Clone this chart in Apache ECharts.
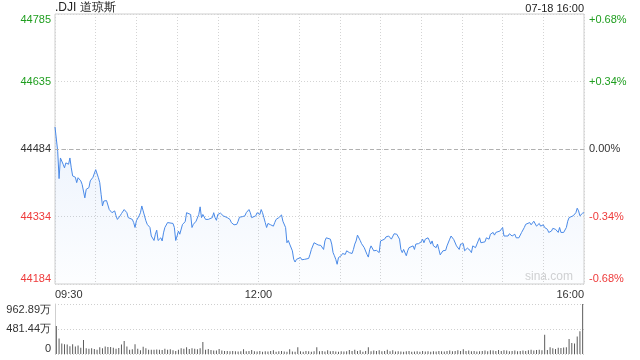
<!DOCTYPE html>
<html><head><meta charset="utf-8">
<script src="https://cdn.jsdelivr.net/npm/echarts@6/dist/echarts.min.js"></script>
<style>html,body{margin:0;padding:0;background:#fff}#c{width:640px;height:360px}</style>
</head><body><div id="c"></div>
<script>
const titleText = '.DJI 道琼斯';
const stampText = '07-18 16:00';
const watermark = 'sina.com';
const prevClose = 44484;
const priceTicks = ['44785','44635','44484','44334','44184'];
const pctTicks = ['+0.68%','+0.34%','0.00%','-0.34%','-0.68%'];
const timeTickMinutes = [0,150,390];
const timeTickLabels = ['09:30','12:00','16:00'];
const volTicks = ['0','481.44万','962.89万'];
const volMax = 962.89;

const lineMinutes = [
0,2,3,4,6,7,8,9,10,11,
12,13,14,15,16,17,19,20,21,22,
23,24,25,26,28,29,30,31,32,33,
34,35,36,38,39,40,41,42,44,45,
46,48,49,50,51,53,54,55,57,58,
59,60,62,63,64,65,67,68,69,70,
71,73,74,75,76,78,79,80,81,83,
84,87,88,89,90,91,92,94,95,96,
97,98,100,101,102,103,104,106,107,108,
109,111,113,114,116,117,118,119,120,122,
123,124,125,127,128,129,130,132,133,134,
135,136,138,139,140,141,143,144,145,146,
148,149,150,151,152,153,154,155,156,157,
159,160,161,162,163,165,166,167,168,170,
171,172,173,175,176,177,178,179,181,182,
184,187,188,189,191,192,194,195,196,198,
199,200,201,203,204,205,206,207,208,209,
210,211,212,214,215,216,217,219,220,221,
222,223,225,226,227,228,230,231,232,233,
235,236,237,238,239,240,241,243,244,245,
246,248,249,250,251,252,254,255,256,257,
259,260,261,262,264,265,266,267,268,270,
271,272,273,275,276,277,278,279,281,282,
283,284,286,287,288,289,291,292,293,294,
296,297,298,299,301,302,303,304,306,307,
308,309,310,312,313,314,315,317,318,319,
320,321,323,324,325,326,328,329,330,331,
332,334,335,336,337,339,340,341,342,344,
345,346,347,348,350,351,352,353,355,356,
357,358,360,361,362,363,364,366,367,368,
369,371,372,373,375,376,377,378,379,380,
382,383,384,385,386,387,388,389,390
];
const linePrices = [
44533,44479,44418,44464,44450,44442,44453,44457,44450,44464,
44442,44424,44420,44421,44409,44420,44413,44405,44401,44375,
44394,44392,44398,44413,44421,44420,44438,44442,44420,44409,
44383,44357,44368,44369,44369,44349,44346,44342,44346,44335,
44327,44335,44340,44342,44349,44342,44331,44331,44327,44320,
44309,44324,44335,44342,44357,44346,44324,44316,44316,44309,
44290,44280,44294,44303,44280,44286,44279,44297,44309,44320,
44320,44318,44309,44280,44290,44301,44294,44316,44320,44322,
44342,44344,44338,44309,44316,44320,44323,44338,44355,44331,
44338,44327,44327,44325,44331,44342,44331,44325,44338,44341,
44338,44335,44337,44331,44335,44327,44320,44315,44312,44316,
44323,44332,44333,44332,44335,44342,44349,44342,44331,44329,
44335,44342,44346,44338,44349,44342,44331,44320,44309,44318,
44315,44318,44312,44320,44327,44331,44332,44337,44323,44309,
44275,44280,44272,44257,44238,44232,44238,44240,44242,44237,
44238,44240,44249,44260,44275,44275,44270,44271,44269,44260,
44279,44286,44288,44283,44272,44253,44246,44238,44227,44242,
44238,44246,44251,44249,44257,44260,44253,44251,44260,44272,
44279,44292,44280,44273,44272,44264,44249,44243,44260,44268,
44257,44253,44258,44257,44253,44279,44277,44283,44288,44288,
44290,44283,44286,44295,44299,44294,44283,44260,44253,44260,
44246,44257,44264,44263,44268,44260,44272,44273,44273,44277,
44283,44275,44283,44286,44280,44272,44279,44268,44264,44272,
44260,44248,44257,44260,44258,44268,44283,44290,44294,44282,
44268,44268,44260,44272,44273,44257,44260,44263,44258,44253,
44268,44272,44264,44279,44286,44275,44279,44277,44286,44290,
44283,44294,44298,44292,44298,44295,44301,44305,44309,44290,
44292,44290,44295,44298,44290,44294,44286,44283,44286,44298,
44301,44309,44316,44312,44320,44315,44318,44323,44312,44315,
44318,44312,44315,44309,44309,44305,44298,44301,44307,44303,
44305,44298,44309,44298,44298,44301,44309,44323,44331,44331,
44335,44338,44342,44352,44346,44335,44338,44341,44342
];
const volumes = [
540,300,200,190,185,150,190,145,165,120,270,110,100,110,95,
80,130,110,145,135,135,120,100,115,185,250,145,80,90,190,
100,70,140,110,80,80,80,85,80,75,100,80,90,70,60,
80,110,100,130,95,110,100,90,110,230,80,95,75,65,65,
95,65,60,60,55,60,55,50,55,90,55,60,75,55,50,
60,45,55,50,60,70,45,55,60,50,45,90,50,45,130,
55,45,60,55,45,55,130,55,60,50,70,55,60,50,45,
55,50,55,75,60,80,60,70,45,60,130,55,65,60,70,
55,60,80,55,70,50,55,50,45,55,60,45,50,55,45,
60,50,55,45,55,50,60,55,50,60,65,55,60,70,60,
90,60,65,55,60,50,55,60,65,55,70,65,60,75,60,
70,65,55,60,65,55,60,65,60,70,80,65,75,80,70,
370,75,130,110,95,120,115,125,130,290,210,200,335,440,962.89
];

// bar time categories (2-minute bars from 09:30)
const volTimes = volumes.map((_, i) => {
  const t = 9 * 60 + 30 + i * 2;
  return String(Math.floor(t / 60)).padStart(2, '0') + ':' + String(t % 60).padStart(2, '0');
});

const FONT = 'Arial, "Liberation Sans", Helvetica, sans-serif';
const GREEN = '#1f9e1f', RED = '#ee3b3b', DARK = '#333333';
const half = Number(priceTicks[0]) - prevClose;
const step = half / 2;
const tickColors = [GREEN, GREEN, DARK, RED, RED];
const tickIdx = v => Math.round((half - v) / step);

const lineData = lineMinutes.map((m, i) => [m, linePrices[i] - prevClose]);

const chart = echarts.init(document.getElementById('c'), null, {renderer: 'canvas'});
chart.setOption({
  animation: false,
  backgroundColor: '#fff',
  grid: [
    {left: 55, top: 14, width: 529, height: 270, show: true, borderColor: '#cfcfcf', borderWidth: 1, containLabel: false},
    {left: 55, top: 304, width: 529, height: 50, show: false, containLabel: false}
  ],
  xAxis: [
    {type: 'value', gridIndex: 0, min: 0, max: 390, interval: 30,
     axisLine: {show: false}, axisTick: {show: false},
     splitLine: {show: true, lineStyle: {color: '#d4d4d4', type: [1, 2], width: 1}},
     axisLabel: {margin: 5, fontSize: 11, fontFamily: FONT, color: DARK,
       showMinLabel: true, showMaxLabel: true,
       alignMinLabel: 'left', alignMaxLabel: 'right',
       formatter: v => { const k = timeTickMinutes.indexOf(v); return k >= 0 ? timeTickLabels[k] : ''; }}},
    {type: 'category', gridIndex: 1, data: volTimes, boundaryGap: true,
     axisLine: {show: false}, axisTick: {show: false}, axisLabel: {show: false}, splitLine: {show: false}}
  ],
  yAxis: [
    {type: 'value', gridIndex: 0, position: 'left', min: -half, max: half, interval: step,
     axisLine: {show: false}, axisTick: {show: false},
     splitLine: {show: true, lineStyle: {color: '#d4d4d4', type: [1, 2], width: 1}},
     axisLabel: {margin: 4, fontSize: 11, fontFamily: FONT,
       verticalAlignMaxLabel: 'top', verticalAlignMinLabel: 'bottom',
       color: (v) => tickColors[tickIdx(Number(v))],
       formatter: v => priceTicks[tickIdx(v)]}},
    {type: 'value', gridIndex: 0, position: 'right', min: -half, max: half, interval: step,
     axisLine: {show: false}, axisTick: {show: false}, splitLine: {show: false},
     axisLabel: {margin: 5, fontSize: 11, fontFamily: FONT,
       verticalAlignMaxLabel: 'top', verticalAlignMinLabel: 'bottom',
       color: (v) => tickColors[tickIdx(Number(v))],
       formatter: v => pctTicks[tickIdx(v)]}},
    {type: 'value', gridIndex: 1, min: 0, max: volMax, interval: volMax / 2,
     axisLine: {show: true, lineStyle: {color: '#cfcfcf'}}, axisTick: {show: false},
     splitLine: {show: true, lineStyle: {color: '#cfcfcf', type: [1, 2], width: 1}},
     axisLabel: {margin: 4, fontSize: 11, fontFamily: FONT, color: DARK,
       verticalAlignMaxLabel: 'top', verticalAlignMinLabel: 'bottom',
       formatter: v => volTicks[Math.round(v / (volMax / 2))]}}
  ],
  series: [
    {type: 'line', xAxisIndex: 0, yAxisIndex: 0, data: lineData, showSymbol: false, symbol: 'none',
     lineStyle: {color: '#4a8ae8', width: 1},
     areaStyle: {origin: 'start', color: new echarts.graphic.LinearGradient(0, 0, 0, 1, [
       {offset: 0, color: 'rgba(74,138,232,0.15)'}, {offset: 1, color: 'rgba(74,138,232,0.02)'}])},
     markLine: {silent: true, symbol: 'none', label: {show: false},
       lineStyle: {color: '#b0b0b0', type: [4, 3], width: 1},
       data: [{yAxis: 0}]}},
    {type: 'bar', xAxisIndex: 1, yAxisIndex: 2, data: volumes, barWidth: 1,
     itemStyle: {color: '#5c5c5c'}}
  ],
  graphic: [
    {type: 'text', left: 55, top: 2, style: {text: titleText, fontSize: 12, fontFamily: FONT, fill: '#222'}},
    {type: 'text', right: 56, top: 3, style: {text: stampText, fontSize: 11, fontFamily: FONT, fill: '#222'}},
    {type: 'text', right: 67, top: 271, style: {text: watermark, fontSize: 12, fontFamily: FONT, fill: '#d2d2d2'}}
  ]
});
</script>
</body></html>
